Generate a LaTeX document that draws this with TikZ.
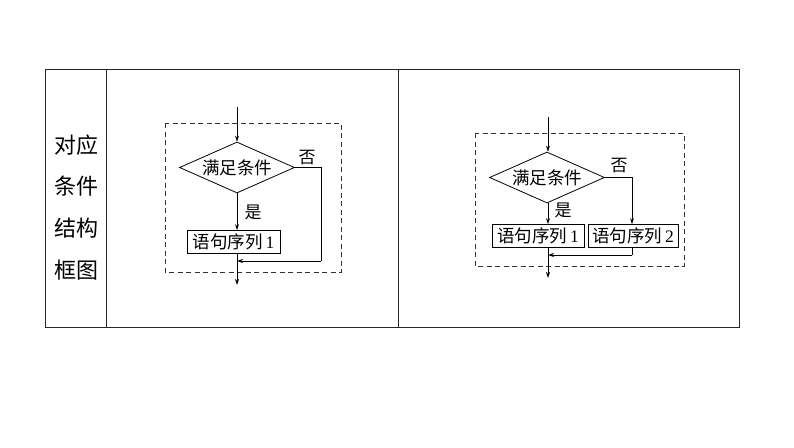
\documentclass[tikz,border=0pt]{standalone}
\usepackage{fontspec}
\setmainfont{Liberation Serif}
\newfontfamily\cjk{Noto Sans CJK SC}
\usetikzlibrary{shapes.geometric,arrows.meta}
\begin{document}
\begin{tikzpicture}[x=1pt,y=-1pt,
  tbl/.style={line width=0.9pt,black!85},
  flow/.style={line width=0.8pt,black},
  arr/.style={flow,-{Stealth[length=6pt,width=4pt]}},
  dbox/.style={line width=0.9pt,black!80,dash pattern=on 5pt off 3.5pt},
  cond/.style={draw,flow,diamond,aspect=2.25,inner sep=0pt,minimum width=115pt,minimum height=51pt,font=\fontsize{17.5pt}{19pt}\cjk},
  stmt/.style={draw,flow,rectangle,inner sep=0pt,minimum height=23pt,font=\fontsize{17.5pt}{19pt}\selectfont},
  lbl/.style={inner sep=0pt,font=\fontsize{17pt}{19pt}\cjk},
  side/.style={inner sep=0pt,font=\fontsize{22pt}{24pt}\cjk}]
\useasboundingbox (0,0) rectangle (794,447);
\fill[white] (0,0) rectangle (794,447);
% table
\draw[tbl] (45,69) rectangle (739,327);
\draw[tbl] (106,69) -- (106,327);
\draw[tbl] (398,69) -- (398,327);
\node[side] (s1) at (76,145) {对应};
\node[side] (s2) at (76,186) {条件};
\node[side] (s3) at (76,228) {结构};
\node[side] (s4) at (76,270) {框图};
% left diagram
\draw[dbox] (165,123) rectangle (341,272);
\coordinate (top1) at (237,107);
\node[cond] (d1) at (237,167.5) {满足条件};
\node[stmt,minimum width=93pt] (b1) at (233.5,242) {{\cjk 语句序列}\,1};
\coordinate (n1) at (321,261);
\coordinate (j1) at (237,261);
\coordinate (out1) at (237,285);
\draw[arr] (top1) -- (d1.north);
\draw[arr] (d1.south) -- (d1.south |- b1.north);
\draw[flow] (d1.east) -| (n1);
\draw[arr] (n1) -- (j1);
\draw[arr] (d1.south |- b1.south) -- (out1);
\node[lbl] (no1) at (307,158) {否};
\node[lbl] (yes1) at (253,212) {是};
% right diagram
\draw[dbox] (475,133) rectangle (684,266);
\coordinate (top2) at (548,117);
\node[cond] (d2) at (547,177.5) {满足条件};
\node[stmt,minimum width=92pt] (b21) at (538,236) {{\cjk 语句序列}\,1};
\node[stmt,minimum width=90pt] (b22) at (633,236) {{\cjk 语句序列}\,2};
\coordinate (n2) at (632,255);
\coordinate (j2) at (548,255);
\coordinate (out2) at (548,278);
\draw[arr] (top2) -- (top2 |- d2.north);
\draw[arr] (top2 |- d2.south) -- (top2 |- b21.north);
\draw[arr] (d2.east) -| (n2 |- b22.north);
\draw[flow] (n2 |- b22.south) -- (n2);
\draw[arr] (n2) -- (j2);
\draw[arr] (top2 |- b21.south) -- (out2);
\node[lbl] (no2) at (619,166) {否};
\node[lbl] (yes2) at (563,210) {是};
\end{tikzpicture}
\end{document}
